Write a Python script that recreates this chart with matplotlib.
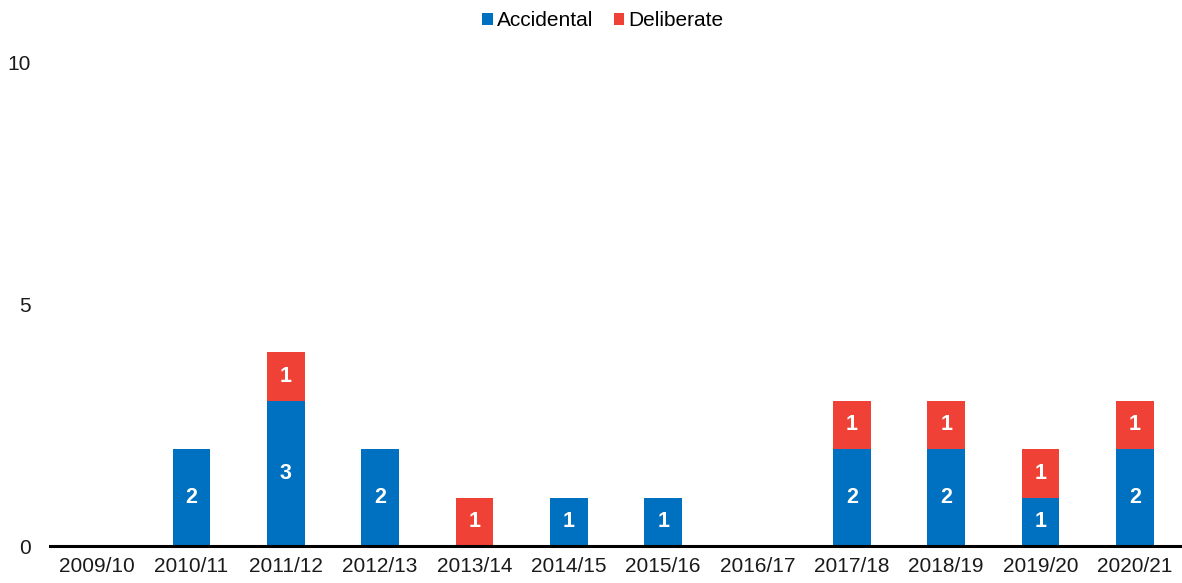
import matplotlib
matplotlib.use("Agg")
import matplotlib.pyplot as plt
import numpy as np

years = ["2009/10", "2010/11", "2011/12", "2012/13", "2013/14", "2014/15",
         "2015/16", "2016/17", "2017/18", "2018/19", "2019/20", "2020/21"]
accidental = [0, 2, 3, 2, 0, 1, 1, 0, 2, 2, 1, 2]
deliberate = [0, 0, 1, 0, 1, 0, 0, 0, 1, 1, 1, 1]

blue = "#0070c0"
red = "#ef4136"

plt.rcParams["font.family"] = ["Liberation Sans", "DejaVu Sans"]

fig = plt.figure(figsize=(11.82, 5.83), dpi=100)
ax = fig.add_axes([50 / 1182, 37 / 583, 1 - 50 / 1182, (546 - 62) / 583])

x = np.arange(len(years))
acc = np.array(accidental)
dlb = np.array(deliberate)
b1 = ax.bar(x, acc, width=0.4, color=blue, label="Accidental")
b2 = ax.bar(x, dlb, width=0.4, bottom=acc, color=red, label="Deliberate")

for i in range(len(years)):
    if acc[i] > 0:
        ax.text(x[i], acc[i] / 2, str(acc[i]), ha="center", va="center",
                color="white", fontsize=15.5, fontweight="bold")
    if dlb[i] > 0:
        ax.text(x[i], acc[i] + dlb[i] / 2, str(dlb[i]), ha="center", va="center",
                color="white", fontsize=15.5, fontweight="bold")

ax.set_xlim(-0.5, len(years) - 0.5)
ax.set_ylim(0, 10)
ax.set_yticks([0, 5, 10])
ax.set_xticks(x)
ax.set_xticklabels(years)
ax.tick_params(axis="both", length=0, labelsize=15, colors="#1a1a1a")
ax.tick_params(axis="x", pad=8)
ax.tick_params(axis="y", pad=14)
for side in ["top", "right", "left"]:
    ax.spines[side].set_visible(False)
ax.spines["bottom"].set_linewidth(2.2)
ax.spines["bottom"].set_color("black")

fig.legend(handles=[b1, b2], loc="center", bbox_to_anchor=(603 / 1182, 1 - 21 / 583),
           ncol=2, frameon=False, fontsize=15, handlelength=0.5, handleheight=0.5,
           handletextpad=0.2, columnspacing=1.0)

fig.savefig("out.png", dpi=100)
